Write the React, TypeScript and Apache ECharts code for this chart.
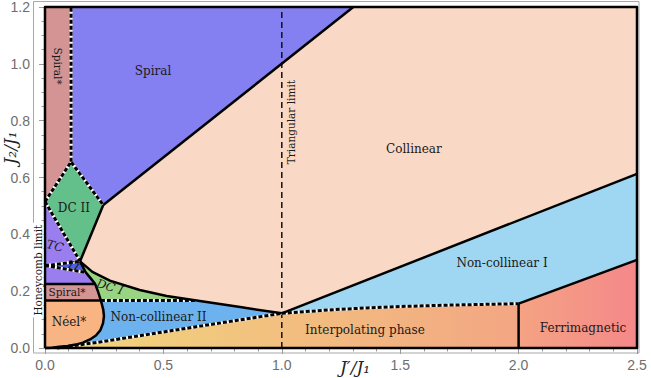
import React, { useEffect, useRef } from "react";
import * as echarts from "echarts";

// ---------- axis ticks ----------
const xTicks = [0, 0.5, 1.0, 1.5, 2.0, 2.5];
const yTicks = [0, 0.2, 0.4, 0.6, 0.8, 1.0, 1.2];

// ---------- key phase-boundary points (J'/J1, J2/J1) ----------
const P = [0.148, 0.305]; // multicritical point
const A = [0, 0.515]; // DC II left vertex
const B = [0.11, 0.655]; // DC II top vertex
const C = [0.246, 0.503]; // DC II right vertex
const D = [1.302, 1.2]; // Spiral/Collinear boundary at top
const E = [1.0, 0.122]; // triangular point
const F = [2.0, 0.156];
const G = [2.5, 0.31];
const H = [2.5, 0.613];
const TL = [0, 0.29]; // TI wedge tip
const spiralStarTop = [0.11, 1.2];

// solid curve from P down to the origin (Spiral*/Néel* right boundary)
const leftCurve = [
  [0.148, 0.305], [0.172, 0.266], [0.193, 0.245], [0.212, 0.225], [0.225, 0.196],
  [0.236, 0.167], [0.246, 0.135], [0.249, 0.112], [0.245, 0.087], [0.234, 0.063],
  [0.215, 0.044], [0.19, 0.03], [0.16, 0.019], [0.13, 0.012], [0.095, 0.007],
  [0.06, 0.004], [0.03, 0.001], [0, 0],
];
// lower boundary of Collinear, P -> E
const collinearLower = [
  [0.148, 0.305], [0.2, 0.268], [0.274, 0.237], [0.4, 0.204], [0.514, 0.183],
  [0.64, 0.167], [0.824, 0.144], [1.0, 0.122],
];
// lower boundary of Non-collinear II (dashed)
const ncIILower = [[0.05, 0.0], [0.09, 0.005], [0.232, 0.021], [0.655, 0.077], [1.0, 0.122]];
// upper boundary of Interpolating phase (dashed)
const interpUpper = [[1.0, 0.122], [1.2, 0.134], [1.358, 0.141], [1.5, 0.146], [1.71, 0.151], [2.0, 0.156]];
const dcIBottom = [[0.236, 0.167], [0.64, 0.167]];

// ---------- regions ----------
const regionPolys: number[][][] = [
  [[0, 0], [2.5, 0], [2.5, 1.2], [0, 1.2]], // Collinear
  [...ncIILower, ...interpUpper.slice(1), [2.0, 0]], // Interpolating
  [[0, 0], [0, 0.167], [0.64, 0.167], ...collinearLower.slice(6), ...ncIILower.slice(0, 4).reverse()], // NC II
  [[0, 0.167], ...leftCurve.slice(5)], // Néel*
  [[0, 0.225], ...leftCurve.slice(3, 6), [0, 0.167]], // Spiral* low
  [TL, ...leftCurve.slice(1, 4), [0, 0.225]], // TC low
  [TL, P, leftCurve[1]], // TI
  [A, P, TL], // TC
  [...leftCurve.slice(0, 6), ...collinearLower.slice(0, 6).reverse()], // DC I
  [A, B, C, P], // DC II
  [A, [0, 1.2], spiralStarTop, B], // Spiral*
  [B, spiralStarTop, D, C], // Spiral
  [...interpUpper, G, H], // Non-collinear I
  [[2.0, 0], F, G, [2.5, 0]], // Ferrimagnetic
];
const regionColors: (string | string[])[] = [
  "#f9d9c5",
  ["#f1d77b", "#f3a683"],
  "#6cb2ee",
  "#f9b483",
  "#d49494",
  "#9a7ef0",
  "#4a5ee8",
  "#9a7ef0",
  "#99d483",
  "#64c08a",
  "#d49494",
  "#8480f2",
  "#9fd7f3",
  ["#f4a383", "#f4888a"],
];

// ---------- boundary lines ----------
const solidLines: number[][][] = [
  [[0, 0], [2.5, 0], [2.5, 1.2], [0, 1.2], [0, 0]],
  [C, D],
  [C, P],
  leftCurve,
  collinearLower,
  [[0, 0.225], leftCurve[3]],
  [[0, 0.167], leftCurve[5]],
  [E, H],
  [F, G],
  [[2.0, 0], F],
];
const dashedLines: number[][][] = [
  [B, spiralStarTop],
  [A, B, C],
  [A, P],
  [TL, P],
  [TL, leftCurve[1]],
  dcIBottom,
  ncIILower,
  interpUpper,
];
const triangularLimit = [[1.0, 0], [1.0, 1.2]];

// ---------- labels ----------
const labelTexts = [
  "Spiral", "Collinear", "DC II", "TC", "TI", "Spiral*", "DC I", "Néel*",
  "Non-collinear II", "Interpolating phase", "Non-collinear I", "Ferrimagnetic",
  "Triangular limit", "Honeycomb limit", "Spiral*",
];
const labelAnchors = [
  [0.456, 0.975], [1.558, 0.7], [0.122, 0.493], [0.042, 0.359], [0.118, 0.289],
  [0.093, 0.197], [0.274, 0.215], [0.101, 0.0915], [0.479, 0.109], [1.351, 0.063],
  [1.93, 0.299], [2.272, 0.07], [1.039, 0.795], [-0.03, 0.274], [0.055, 0.992],
];
const labelRot = [0, 0, 0, -0.25, -0.4, 0, -0.3, 0, 0, 0, 0, 0, Math.PI / 2, Math.PI / 2, -Math.PI / 2];
const labelItalic = [false, false, false, true, true, false, true, false, false, false, false, false, false, false, false];
const labelSize = [12, 12, 12, 12, 11, 10.5, 12, 12, 12, 12, 12, 12, 10.5, 10.5, 10.5];

const SERIF = '"DejaVu Serif", serif';
const tickColor = "#9a9a9a";
const labelColor = "#6e6e6e";

function makeFill(c: string | string[]) {
  if (Array.isArray(c)) {
    return new echarts.graphic.LinearGradient(0, 0, 1, 0, [
      { offset: 0, color: c[0] },
      { offset: 1, color: c[1] },
    ]);
  }
  return c;
}

function axisCommon(show: boolean) {
  return {
    type: "value" as const,
    axisLine: { show: false },
    splitLine: { show: false },
    axisTick: { show: true, inside: true, length: 6, lineStyle: { color: tickColor, width: 1 } },
    minorTick: { show: true, inside: true, length: 3.5, lineStyle: { color: tickColor, width: 1 } },
    axisLabel: {
      show,
      color: labelColor,
      fontSize: 14,
      fontFamily: '"Liberation Sans", Arial, sans-serif',
      formatter: (v: number) => v.toFixed(1),
    },
  };
}

function buildOption() {
  return {
    animation: false,
    grid: { left: 45, top: 7, width: 592, height: 341, containLabel: false },
    xAxis: [
      {
        ...axisCommon(true),
        min: xTicks[0], max: xTicks[xTicks.length - 1], interval: 0.5,
        position: "bottom", offset: 5,
        minorTick: { show: true, splitNumber: 5, length: 3.5, lineStyle: { color: tickColor } },
        axisLabel: { ...axisCommon(true).axisLabel, margin: 5 },
      },
      {
        ...axisCommon(false),
        min: xTicks[0], max: xTicks[xTicks.length - 1], interval: 0.5,
        position: "top", offset: 6,
        minorTick: { show: true, splitNumber: 5, length: 3.5, lineStyle: { color: tickColor } },
      },
    ],
    yAxis: [
      {
        ...axisCommon(true),
        min: yTicks[0], max: yTicks[yTicks.length - 1], interval: 0.2,
        position: "left", offset: 12,
        minorTick: { show: true, splitNumber: 4, length: 3.5, lineStyle: { color: tickColor } },
        axisLabel: { ...axisCommon(true).axisLabel, margin: 3 },
      },
      {
        ...axisCommon(false),
        min: yTicks[0], max: yTicks[yTicks.length - 1], interval: 0.2,
        position: "right", offset: 13,
        minorTick: { show: true, splitNumber: 4, length: 3.5, lineStyle: { color: tickColor } },
      },
    ],
    graphic: [
      {
        type: "rect", z: 0, silent: true,
        shape: { x: 33.5, y: 1.5, width: 605.5, height: 351.5 },
        style: { fill: "none", stroke: "#a8a8a8", lineWidth: 1 },
      },
      {
        type: "text", z: 10, x: 355, y: 367, silent: true,
        style: { text: "J′/J₁", font: `italic 17px ${SERIF}`, fill: "#222", align: "center", verticalAlign: "middle" },
      },
      {
        type: "text", z: 10, x: 10, y: 148, rotation: Math.PI / 2, silent: true,
        style: { text: "J₂/J₁", font: `italic 17px ${SERIF}`, fill: "#222", align: "center", verticalAlign: "middle" },
      },
    ],
    series: [
      {
        type: "custom", z: 2, silent: true, clip: false,
        coordinateSystem: "cartesian2d", xAxisIndex: 0, yAxisIndex: 0,
        data: regionPolys.map(() => [0, 0]),
        renderItem: (params: any, api: any) => {
          const i = params.dataIndex;
          const pts = regionPolys[i].map((p) => api.coord(p));
          return { type: "polygon", z2: i, shape: { points: pts }, style: { fill: makeFill(regionColors[i]) } };
        },
      },
      {
        type: "custom", z: 3, silent: true, clip: false,
        coordinateSystem: "cartesian2d", xAxisIndex: 0, yAxisIndex: 0,
        data: [[0, 0]],
        renderItem: (_p: any, api: any) => ({
          type: "polyline",
          shape: { points: triangularLimit.map((p) => api.coord(p)) },
          style: { fill: "none", stroke: "#111", lineWidth: 1.5, lineDash: [6, 4] },
        }),
      },
      {
        type: "custom", z: 4, silent: true, clip: false,
        coordinateSystem: "cartesian2d", xAxisIndex: 0, yAxisIndex: 0,
        data: dashedLines.map(() => [0, 0]),
        renderItem: (params: any, api: any) => {
          const pts = dashedLines[params.dataIndex].map((p) => api.coord(p));
          return {
            type: "group",
            children: [
              { type: "polyline", shape: { points: pts }, style: { fill: "none", stroke: "#fff", lineWidth: 3 } },
              {
                type: "polyline", z2: 1, shape: { points: pts },
                style: { fill: "none", stroke: "#000", lineWidth: 3, lineDash: [4, 2] },
              },
            ],
          };
        },
      },
      {
        type: "custom", z: 5, silent: true, clip: false,
        coordinateSystem: "cartesian2d", xAxisIndex: 0, yAxisIndex: 0,
        data: solidLines.map(() => [0, 0]),
        renderItem: (params: any, api: any) => ({
          type: "polyline",
          shape: { points: solidLines[params.dataIndex].map((p) => api.coord(p)) },
          style: { fill: "none", stroke: "#000", lineWidth: 2.5, lineJoin: "round" },
        }),
      },
      {
        type: "custom", z: 6, silent: true, clip: false,
        coordinateSystem: "cartesian2d", xAxisIndex: 0, yAxisIndex: 0,
        data: labelTexts.map(() => [0, 0]),
        renderItem: (params: any, api: any) => {
          const i = params.dataIndex;
          const [x, y] = api.coord(labelAnchors[i]);
          const isHoney = labelTexts[i] === "Honeycomb limit";
          return {
            type: "text", x, y, rotation: labelRot[i],
            style: {
              text: labelTexts[i],
              fill: "#1a1a1a",
              font: `${labelItalic[i] ? "italic " : ""}${labelSize[i]}px ${SERIF}`,
              align: "center",
              verticalAlign: "middle",
              backgroundColor: isHoney ? "#fff" : undefined,
              padding: isHoney ? [0, 2] : 0,
            },
          };
        },
      },
    ],
  };
}

export default function App() {
  const ref = useRef<HTMLDivElement>(null);
  useEffect(() => {
    const chart = echarts.init(ref.current!, null, { renderer: "svg" });
    chart.setOption(buildOption() as any);
    return () => chart.dispose();
  }, []);
  return (
    <div
      ref={ref}
      style={{ position: "absolute", left: 0, top: 0, width: 651, height: 378, background: "#fff" }}
    />
  );
}
